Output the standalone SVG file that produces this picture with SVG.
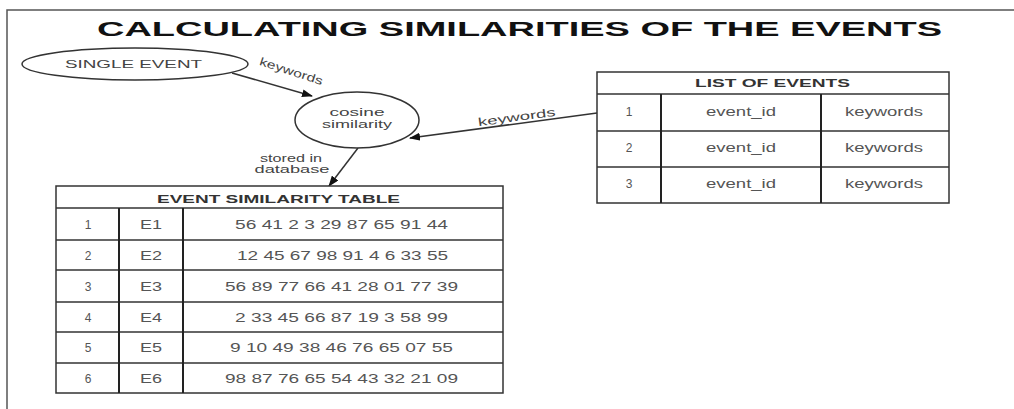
<svg xmlns="http://www.w3.org/2000/svg" width="1014" height="409" viewBox="0 0 1014 409">
<defs>
<style>
text{font-family:"Liberation Sans",Arial,sans-serif;}
.title{font-size:20px;font-weight:bold;fill:#111;}
.lbl{font-size:11.5px;fill:#444;}
.hdr{font-size:11px;font-weight:bold;fill:#333;}
.cell{font-size:12px;fill:#555;}
.box{fill:#fff;stroke:#333;stroke-width:1.5;}
.grid{stroke:#333;stroke-width:1.5;}
.col{stroke:#222;stroke-width:2;}
.conn{stroke:#333;stroke-width:1.5;fill:none;marker-end:url(#arr);}
</style>
<marker id="arr" markerWidth="11" markerHeight="8" refX="10" refY="4" orient="auto" markerUnits="userSpaceOnUse">
<path d="M0,0 L11,4 L0,8 z" fill="#111"/>
</marker>
</defs>
<rect width="1014" height="409" fill="#fff"/>
<g id="frame">
<path d="M7,409 L7,10 L1014,10" fill="none" stroke="#555" stroke-width="1.5"/>
</g>
<text class="title" x="97" y="36" textLength="845" lengthAdjust="spacingAndGlyphs">CALCULATING SIMILARITIES OF THE EVENTS</text>

<g id="connectors">
<line class="conn" x1="232" y1="73" x2="312" y2="96"/>
<line class="conn" x1="597" y1="113" x2="410" y2="138"/>
<line class="conn" x1="358" y1="148" x2="329" y2="186"/>
<text class="lbl" x="291" y="75" text-anchor="middle" transform="rotate(18 291 72)" textLength="66" lengthAdjust="spacingAndGlyphs">keywords</text>
<text class="lbl" x="517" y="121" text-anchor="middle" transform="rotate(-7.6 517 119)" textLength="78" lengthAdjust="spacingAndGlyphs">keywords</text>
<text class="lbl" x="291" y="162" text-anchor="middle" textLength="62" lengthAdjust="spacingAndGlyphs">stored in</text>
<text class="lbl" x="292" y="173" text-anchor="middle" textLength="75" lengthAdjust="spacingAndGlyphs">database</text>
</g>

<g id="single-event">
<ellipse class="box" cx="135" cy="64" rx="113" ry="16"/>
<text class="lbl" x="133.5" y="68" text-anchor="middle" textLength="137" lengthAdjust="spacingAndGlyphs">SINGLE EVENT</text>
</g>

<g id="cosine-similarity">
<ellipse class="box" cx="357" cy="120" rx="62" ry="28"/>
<text class="lbl" x="357" y="116" text-anchor="middle" textLength="55" lengthAdjust="spacingAndGlyphs">cosine</text>
<text class="lbl" x="357" y="128" text-anchor="middle" textLength="70" lengthAdjust="spacingAndGlyphs">similarity</text>
</g>

<g id="list-of-events">
<rect class="box" x="597" y="72" width="352" height="131"/>
<line class="grid" x1="597" y1="94" x2="949" y2="94"/>
<line class="grid" x1="597" y1="131" x2="949" y2="131"/>
<line class="grid" x1="597" y1="167" x2="949" y2="167"/>
<line class="col" x1="661" y1="94" x2="661" y2="203"/>
<line class="col" x1="821" y1="94" x2="821" y2="203"/>
<text class="hdr" x="772.5" y="87" text-anchor="middle" textLength="155" lengthAdjust="spacingAndGlyphs">LIST OF EVENTS</text>
<text class="cell" x="629" y="116" text-anchor="middle">1</text>
<text class="cell" x="741" y="116" text-anchor="middle" textLength="70" lengthAdjust="spacingAndGlyphs">event_id</text>
<text class="cell" x="884" y="116" text-anchor="middle" textLength="78" lengthAdjust="spacingAndGlyphs">keywords</text>
<text class="cell" x="629" y="152" text-anchor="middle">2</text>
<text class="cell" x="741" y="152" text-anchor="middle" textLength="70" lengthAdjust="spacingAndGlyphs">event_id</text>
<text class="cell" x="884" y="152" text-anchor="middle" textLength="78" lengthAdjust="spacingAndGlyphs">keywords</text>
<text class="cell" x="629" y="188" text-anchor="middle">3</text>
<text class="cell" x="741" y="188" text-anchor="middle" textLength="70" lengthAdjust="spacingAndGlyphs">event_id</text>
<text class="cell" x="884" y="188" text-anchor="middle" textLength="78" lengthAdjust="spacingAndGlyphs">keywords</text>
</g>

<g id="event-similarity-table">
<rect class="box" x="56" y="186" width="447" height="207"/>
<line class="grid" x1="56" y1="208" x2="503" y2="208"/>
<line class="grid" x1="56" y1="240" x2="503" y2="240"/>
<line class="grid" x1="56" y1="270" x2="503" y2="270"/>
<line class="grid" x1="56" y1="302" x2="503" y2="302"/>
<line class="grid" x1="56" y1="332" x2="503" y2="332"/>
<line class="grid" x1="56" y1="363" x2="503" y2="363"/>
<line class="col" x1="119" y1="208" x2="119" y2="393"/>
<line class="col" x1="183" y1="208" x2="183" y2="393"/>
<text class="hdr" x="278.5" y="203" text-anchor="middle" textLength="243" lengthAdjust="spacingAndGlyphs">EVENT SIMILARITY TABLE</text>
<g class="cell" text-anchor="middle">
<text x="88" y="229">1</text>
<text x="151" y="229" textLength="22" lengthAdjust="spacingAndGlyphs">E1</text>
<text x="341.5" y="229" textLength="213" lengthAdjust="spacingAndGlyphs">56 41 2 3 29 87 65 91 44</text>
<text x="88" y="260">2</text>
<text x="151" y="260" textLength="22" lengthAdjust="spacingAndGlyphs">E2</text>
<text x="342.5" y="260" textLength="211" lengthAdjust="spacingAndGlyphs">12 45 67 98 91 4 6 33 55</text>
<text x="88" y="291">3</text>
<text x="151" y="291" textLength="22" lengthAdjust="spacingAndGlyphs">E3</text>
<text x="341.5" y="291" textLength="233" lengthAdjust="spacingAndGlyphs">56 89 77 66 41 28 01 77 39</text>
<text x="88" y="322">4</text>
<text x="151" y="322" textLength="22" lengthAdjust="spacingAndGlyphs">E4</text>
<text x="341.5" y="322" textLength="213" lengthAdjust="spacingAndGlyphs">2 33 45 66 87 19 3 58 99</text>
<text x="88" y="352">5</text>
<text x="151" y="352" textLength="22" lengthAdjust="spacingAndGlyphs">E5</text>
<text x="341.5" y="352" textLength="223" lengthAdjust="spacingAndGlyphs">9 10 49 38 46 76 65 07 55</text>
<text x="88" y="383">6</text>
<text x="151" y="383" textLength="22" lengthAdjust="spacingAndGlyphs">E6</text>
<text x="341.5" y="383" textLength="233" lengthAdjust="spacingAndGlyphs">98 87 76 65 54 43 32 21 09</text>
</g>
</g>
</svg>
